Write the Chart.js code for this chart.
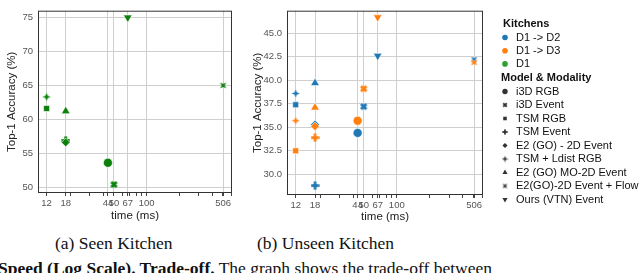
<!DOCTYPE html>
<html>
<head>
<meta charset="utf-8">
<script src="https://cdn.jsdelivr.net/npm/chart.js@4.4.1/dist/chart.umd.min.js"></script>
<style>
body { margin: 0; width: 640px; height: 273px; overflow: hidden; background: #fff; position: relative; }
#seenChart { position: absolute; left: 0; top: 0; }
#unseenChart { position: absolute; left: 240px; top: 0; }
.cap { position: absolute; top: 233px; font-family: 'Liberation Serif', serif; font-size: 17.5px; color: #111; white-space: nowrap; }
#bottomText { position: absolute; left: -2px; top: 258px; font-family: 'Liberation Serif', serif; font-size: 17.5px; color: #111; white-space: nowrap; }
</style>
</head>
<body>
<canvas id="seenChart" width="240" height="228"></canvas>
<canvas id="unseenChart" width="400" height="228"></canvas>
<div class="cap" style="left:55px">(a) Seen Kitchen</div>
<div class="cap" style="left:257px">(b) Unseen Kitchen</div>
<div id="bottomText"><b>Speed (Log Scale). Trade-off.</b> The graph shows the trade-off between</div>
<script>
const MODELS = ['i3D RGB', 'i3D Event', 'TSM RGB', 'TSM Event', 'E2 (GO) - 2D Event',
    'TSM + Ldist RGB', 'E2 (GO) MO-2D Event', 'E2(GO)-2D Event + Flow', 'Ours (VTN) Event'];
const MARKERS = ['circle', 'X', 'rect', 'P', 'rectRot', 'star', 'triangle', 'starRot', 'triangleDown'];
const TIMES = [44, 50, 12, 18, 18, 12, 18, 506, 67];
const SEEN_D1 = [53.6, 50.4, 61.6, 56.9, 56.6, 63.3, 61.2, 65.0, 75.0];
const UNSEEN_D2 = [34.4, 37.2, 37.4, 28.8, 35.3, 38.6, 39.7, 42.2, 42.6];
const UNSEEN_D3 = [35.7, 39.1, 32.5, 33.9, 35.1, 35.7, 37.1, 41.9, 46.7];
const KITCHENS = ['D1 -> D2', 'D1 -> D3', 'D1'];
const X_TICKS = [12, 18, 44, 50, 67, 100, 506];
const X_MINOR = [20, 30, 40, 60, 70, 80, 90, 200, 300, 400, 500, 600];
const Y_TICKS_SEEN = [50, 55, 60, 65, 70, 75];
const Y_TICKS_UNSEEN = [30, 32.5, 35, 37.5, 40, 42.5, 45];

const C_BLUE = '#1f77b4';
const C_ORANGE = '#ff7f0e';
const C_GREEN = '#0b800b';
const C_GREEN_LEG = '#2ca02c';
const FONT = "'Liberation Sans', Arial, sans-serif";

// custom marker images for the shapes chart.js doesn't have
const markerCache = {};
function markerImage(shape, color, size) {
    const key = shape + color + size;
    if (markerCache[key]) return markerCache[key];
    const c = document.createElement('canvas');
    c.width = c.height = size;
    const g = c.getContext('2d');
    const h = size / 2;
    g.translate(h, h);
    let pts = [];
    if (shape === 'P' || shape === 'X') {
        const a = h * 0.34, b = shape === 'X' ? h * 0.85 : h * 0.95;
        pts = [[-a, -b], [a, -b], [a, -a], [b, -a], [b, a], [a, a], [a, b], [-a, b], [-a, a], [-b, a], [-b, -a], [-a, -a]];
        if (shape === 'X') g.rotate(Math.PI / 4);
    } else {
        for (let i = 0; i < 8; i++) {
            const r = i % 2 ? h * 0.4 : h * 0.98;
            const ang = i * Math.PI / 4 - Math.PI / 2;
            pts.push([r * Math.cos(ang), r * Math.sin(ang)]);
        }
        if (shape === 'starRot') g.rotate(Math.PI / 4);
    }
    g.beginPath();
    pts.forEach((p, i) => i ? g.lineTo(p[0], p[1]) : g.moveTo(p[0], p[1]));
    g.closePath();
    g.fillStyle = color;
    g.fill();
    g.strokeStyle = 'rgba(255,255,255,0.6)';
    g.lineWidth = 0.5;
    g.stroke();
    markerCache[key] = c;
    return c;
}

function styleFor(shape, color, small) {
    if (shape === 'X' || shape === 'P') return markerImage(shape, color, small ? 6 : 9);
    if (shape === 'star' || shape === 'starRot') return markerImage(shape, color, small ? 7 : 9);
    if (shape === 'triangleDown') return 'triangle';
    return shape;
}
function radiusFor(shape, small) {
    const k = small ? 0.6 : 1;
    if (shape === 'circle') return 4.5 * k;
    if (shape === 'rect') return 4.2 * k;
    if (shape === 'rectRot') return 4.3 * k;
    if (shape === 'triangle' || shape === 'triangleDown') return 5 * k;
    return 4 * k;
}

function makeDataset(label, values, color, order) {
    return {
        label: label,
        data: TIMES.map((t, i) => ({x: t, y: values[i]})),
        backgroundColor: color,
        borderColor: '#ffffff',
        borderWidth: 0.6,
        order: order,
        pointStyle: ctx => styleFor(MARKERS[ctx.dataIndex], color, false),
        pointRadius: ctx => radiusFor(MARKERS[ctx.dataIndex], false),
        rotation: ctx => MARKERS[ctx.dataIndex] === 'triangleDown' ? 180 : 0,
        clip: false,
    };
}

const frame = {
    id: 'frame',
    beforeDatasetsDraw(chart) {
        const a = chart.chartArea, g = chart.ctx;
        g.save();
        g.strokeStyle = '#333';
        g.lineWidth = 1;
        g.strokeRect(a.left + 0.5, a.top + 0.5, a.right - a.left - 1, a.bottom - a.top - 1);
        g.restore();
    }
};

function xScale(titlePad) {
    return {
        type: 'logarithmic',
        min: 10,
        max: 610,
        afterBuildTicks: s => {
            s.ticks = X_TICKS.concat(X_MINOR).sort((a, b) => a - b).map(v => ({value: v}));
        },
        afterFit: s => { s.height = titlePad.h; },
        border: {display: false},
        grid: {
            color: ctx => (ctx.tick && X_TICKS.includes(ctx.tick.value)) ? '#cfcfcf' : 'rgba(0,0,0,0)',
            tickColor: '#444',
            tickLength: 3,
            lineWidth: 1,
        },
        ticks: {
            autoSkip: false,
            maxRotation: 0,
            padding: 2,
            color: '#555',
            font: {family: FONT, size: 9.5},
            callback: v => X_TICKS.includes(v) ? String(v) : '',
        },
        title: {
            display: true,
            text: 'time (ms)',
            color: '#222',
            font: {family: FONT, size: 11.5},
            padding: {top: 0, bottom: titlePad.p},
        },
    };
}

function yScale(tickList, width, titlePad, digits) {
    return {
        type: 'linear',
        afterBuildTicks: s => { s.ticks = tickList.map(v => ({value: v})); },
        afterFit: s => { s.width = width; },
        border: {display: false},
        grid: {color: '#cfcfcf', drawTicks: false, lineWidth: 1},
        ticks: {
            padding: 5,
            color: '#555',
            font: {family: FONT, size: 9.5},
            callback: v => v.toFixed(digits),
        },
        title: {
            display: true,
            text: 'Top-1 Accuracy (%)',
            color: '#222',
            font: {family: FONT, size: 11.5},
            padding: {top: titlePad, bottom: 0},
        },
    };
}

const seenChart = new Chart(document.getElementById('seenChart'), {
    type: 'scatter',
    data: {
        datasets: [makeDataset('D1', SEEN_D1, C_GREEN, 1)]
    },
    options: {
        responsive: false,
        animation: false,
        layout: {padding: {left: 0, right: 8, top: 1, bottom: 0}},
        plugins: {legend: {display: false}, tooltip: {enabled: false}},
        scales: {
            x: xScale({h: 35, p: 5}),
            y: Object.assign(yScale(Y_TICKS_SEEN, 38, 5, 0), {min: 49.15, max: 76.0}),
        }
    },
    plugins: [frame]
});

// legend on the right, drawn next to the unseen plot
const sideLegend = {
    id: 'sideLegend',
    afterDraw(chart) {
        const g = chart.ctx;
        const off = 240;
        g.save();
        g.textBaseline = 'middle';
        g.textAlign = 'left';
        g.fillStyle = '#111';
        g.font = 'bold 11px ' + FONT;
        g.fillText('Kitchens', 503 - off, 23.5);
        const kColors = [C_BLUE, C_ORANGE, C_GREEN_LEG];
        KITCHENS.forEach((k, i) => {
            const y = 37.5 + i * 13.2;
            g.fillStyle = kColors[i];
            Chart.helpers.drawPoint(g, {pointStyle: 'circle', radius: 2.8, borderWidth: 0, rotation: 0}, 505 - off, y);
            g.fillStyle = '#111';
            g.font = '11px ' + FONT;
            g.fillText(k, 516 - off, y);
        });
        g.font = 'bold 11px ' + FONT;
        g.fillText('Model & Modality', 501 - off, 77.5);
        MODELS.forEach((m, i) => {
            const y = 91.5 + i * 13.5;
            const shape = MARKERS[i];
            g.fillStyle = '#333';
            g.strokeStyle = '#333';
            Chart.helpers.drawPoint(g, {
                pointStyle: styleFor(shape, '#333', true),
                radius: radiusFor(shape, true),
                borderWidth: 0,
                rotation: shape === 'triangleDown' ? 180 : 0,
            }, 505 - off, y);
            g.fillStyle = '#111';
            g.font = '11px ' + FONT;
            g.fillText(m, 516 - off, y);
        });
        g.restore();
    }
};

const unseenChart = new Chart(document.getElementById('unseenChart'), {
    type: 'scatter',
    data: {
        datasets: [
            makeDataset('D1 -> D2', UNSEEN_D2, C_BLUE, 2),
            makeDataset('D1 -> D3', UNSEEN_D3, C_ORANGE, 1),
        ]
    },
    options: {
        responsive: false,
        animation: false,
        layout: {padding: {left: 0, right: 157, top: 0, bottom: 0}},
        plugins: {legend: {display: false}, tooltip: {enabled: false}},
        scales: {
            x: xScale({h: 33, p: 4}),
            y: Object.assign(yScale(Y_TICKS_UNSEEN, 47, 11, 1), {min: 27.8, max: 47.4}),
        }
    },
    plugins: [frame, sideLegend]
});
</script>
</body>
</html>
